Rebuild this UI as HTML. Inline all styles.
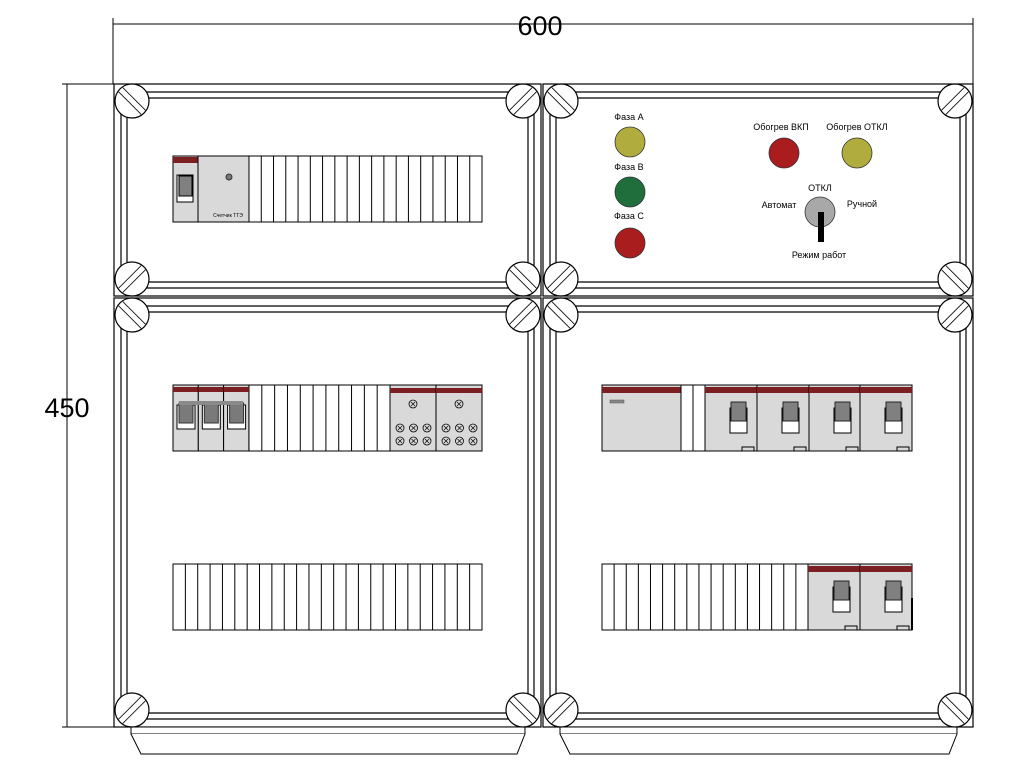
<!DOCTYPE html>
<html><head><meta charset="utf-8"><style>
html,body{margin:0;padding:0;background:#fff;width:1024px;height:768px;overflow:hidden}
svg{display:block}
text{font-family:"Liberation Sans","DejaVu Sans",sans-serif;fill:#000}
</style></head><body>
<svg id="s" width="1024" height="768" viewBox="0 0 1024 768" xmlns="http://www.w3.org/2000/svg">
<g stroke="#000" stroke-width="1" fill="none">
<line x1="113" y1="24" x2="973" y2="24"/>
<line x1="113" y1="18" x2="113" y2="84"/>
<line x1="973" y1="18" x2="973" y2="84"/>
<line x1="67" y1="84" x2="67" y2="727"/>
<line x1="62" y1="84" x2="114" y2="84"/>
<line x1="62" y1="727" x2="114" y2="727"/>
</g>
<text x="540" y="35" font-size="27" text-anchor="middle">600</text>
<text x="67" y="417" font-size="27" text-anchor="middle">450</text>
<g id="boxes"></g>
<g id="mods"></g>
<g font-size="9" text-anchor="middle">
<text x="629" y="120">Фаза А</text>
<text x="629" y="170">Фаза В</text>
<text x="629" y="219">Фаза С</text>
<text x="781" y="130">Обогрев ВКП</text>
<text x="857" y="130">Обогрев ОТКЛ</text>
<text x="820" y="191">ОТКЛ</text>
<text x="779" y="208">Автомат</text>
<text x="862" y="207">Ручной</text>
<text x="819" y="258">Режим работ</text>
</g>
<g stroke="#333" stroke-width="0.8">
<circle cx="630" cy="142" r="15" fill="#b0ad3e"/>
<circle cx="630" cy="192" r="15" fill="#1f6e3c"/>
<circle cx="630" cy="243" r="15" fill="#a91d1f"/>
<circle cx="784" cy="153" r="15" fill="#a91d1f"/>
<circle cx="857" cy="153" r="15" fill="#b0ad3e"/>
<circle cx="820" cy="212" r="15" fill="#a8a8a8"/>
</g>
<rect x="818" y="212" width="6" height="30" fill="#000"/>
<text x="228" y="217" font-size="5" text-anchor="middle" fill="#333">Счетчик ТТЭ</text>
</svg>
<script>
var NS="http://www.w3.org/2000/svg";
function el(p,t,a){var e=document.createElementNS(NS,t);for(var k in a)e.setAttribute(k,a[k]);p.appendChild(e);return e;}
var B=document.getElementById("boxes"),M=document.getElementById("mods");
function screw(cx,cy,dir){
 el(B,"circle",{cx:cx,cy:cy,r:17,fill:"#fff",stroke:"#000","stroke-width":1.2});
 for(var o of [-3,3]){
  var px=o*0.707,py=o*0.707*(dir?-1:1);
  var vx=0.707*16,vy=0.707*16*(dir?1:-1);
  el(B,"line",{x1:cx+px-vx,y1:cy+py-vy,x2:cx+px+vx,y2:cy+py+vy,stroke:"#000","stroke-width":0.8});
 }
}
function box(x1,y1,x2,y2,feet){
 el(B,"rect",{x:x1,y:y1,width:x2-x1,height:y2-y1,fill:"#fff",stroke:"#000","stroke-width":1.2});
 el(B,"rect",{x:x1+7,y:y1+8,width:x2-x1-14,height:y2-y1-16,rx:12,fill:"none",stroke:"#000","stroke-width":1.2});
 el(B,"rect",{x:x1+13,y:y1+14,width:x2-x1-26,height:y2-y1-28,rx:10,fill:"none",stroke:"#000","stroke-width":1.2});
 if(feet){
  el(B,"rect",{x:x1+17,y:y2,width:x2-x1-33,height:7,fill:"#fff",stroke:"#000"});
  el(B,"path",{d:"M"+(x1+17)+" "+(y2+7)+" L"+(x1+27)+" "+(y2+27)+" L"+(x2-24)+" "+(y2+27)+" L"+(x2-16)+" "+(y2+7),fill:"#fff",stroke:"#000"});
 }
 screw(x1+18,y1+17,1);screw(x2-18,y1+17,0);screw(x1+18,y2-17,0);screw(x2-18,y2-17,1);
}
box(114,84,541,296,false);box(543,84,973,296,false);
box(114,298,541,727,true);box(543,298,973,727,true);
function slots(x1,x2,y,h,n){
 el(M,"rect",{x:x1,y:y,width:x2-x1,height:h,fill:"#fff",stroke:"#000"});
 var w=(x2-x1)/n;for(var i=1;i<n;i++)el(M,"line",{x1:x1+i*w,y1:y,x2:x1+i*w,y2:y+h,stroke:"#000"});
}
function brk(x,w,y,h,hx){
 el(M,"rect",{x:x,y:y,width:w,height:h,fill:"#d9d9d9",stroke:"#000"});
 el(M,"rect",{x:x,y:y+2,width:w,height:6,fill:"#7b1f22"});
 var cx=hx||x+w/2+8;
 el(M,"rect",{x:cx-9,y:y+23,width:17,height:25,fill:"#fff",stroke:"#000"});
 el(M,"rect",{x:cx-8,y:y+17,width:15,height:19,fill:"#808080",stroke:"#222"});
 el(M,"rect",{x:x+w-15,y:y+h-4,width:12,height:4,fill:"none",stroke:"#000"});
}
slots(249,482,156,66,19);
el(M,"rect",{x:173,y:156,width:25,height:66,fill:"#d9d9d9",stroke:"#000"});
el(M,"rect",{x:173,y:157,width:25,height:6,fill:"#7b1f22"});
el(M,"rect",{x:177,y:175,width:16,height:27,fill:"#fff",stroke:"#000"});
el(M,"rect",{x:179,y:176,width:13,height:20,fill:"#808080",stroke:"#000"});
el(M,"rect",{x:198,y:156,width:51,height:66,fill:"#d9d9d9",stroke:"#000"});
el(M,"circle",{cx:229,cy:177,r:3,fill:"#777",stroke:"#333"});
slots(249,390,385,66,11);
for(var i=0;i<3;i++){var x=173+i*25.3;
 el(M,"rect",{x:x,y:385,width:25.3,height:66,fill:"#d9d9d9",stroke:"#000"});
 el(M,"rect",{x:x,y:387,width:25.3,height:5,fill:"#7b1f22"});
 el(M,"rect",{x:x+4,y:405,width:18,height:24,fill:"#fff",stroke:"#000"});
 el(M,"rect",{x:x+6,y:403,width:14,height:20,fill:"#7a7a7a",stroke:"#333"});}
el(M,"rect",{x:179,y:401,width:64,height:4,fill:"#8a8a8a"});
for(var j=0;j<2;j++){var x=390+j*46;
 el(M,"rect",{x:x,y:385,width:46,height:66,fill:"#d9d9d9",stroke:"#000"});
 el(M,"rect",{x:x,y:388,width:46,height:5,fill:"#7b1f22"});
 var pts=[[x+23,404]];for(var r=0;r<2;r++)for(var c=0;c<3;c++)pts.push([x+10+c*13.5,428+r*13]);
 pts.forEach(function(p){el(M,"circle",{cx:p[0],cy:p[1],r:4,fill:"none",stroke:"#000","stroke-width":0.8});
  el(M,"path",{d:"M"+(p[0]-2)+" "+(p[1]-2)+"L"+(p[0]+2)+" "+(p[1]+2)+"M"+(p[0]+2)+" "+(p[1]-2)+"L"+(p[0]-2)+" "+(p[1]+2),stroke:"#000","stroke-width":0.7});});
}
slots(173,482,564,66,25);
el(M,"rect",{x:602,y:385,width:79,height:66,fill:"#d9d9d9",stroke:"#000"});
el(M,"rect",{x:602,y:387,width:79,height:6,fill:"#7b1f22"});
el(M,"rect",{x:610,y:400,width:14,height:3,fill:"#888",stroke:"#555","stroke-width":0.5});
slots(681,705,385,66,2);
[705,757,809,860].forEach(function(x){brk(x,52,385,66);});
slots(602,808,564,66,17);
brk(808,52,564,66);brk(860,52,564,66);
el(M,"line",{x1:912,y1:598,x2:912,y2:630,stroke:"#000","stroke-width":2});
</script>
</body></html>
